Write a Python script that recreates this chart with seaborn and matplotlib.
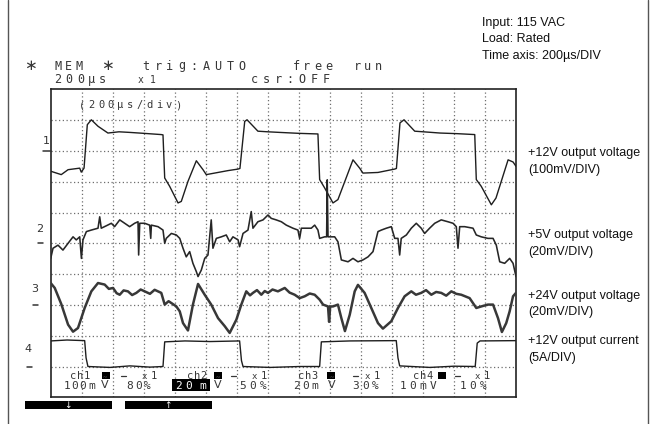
import matplotlib
matplotlib.use("Agg")
import matplotlib.pyplot as plt
from matplotlib.patches import Rectangle
from matplotlib.lines import Line2D
import pandas as pd
import seaborn as sns

sns.set_style("white")
plt.rcParams['font.family'] = ['DejaVu Sans']

W, H = 651, 424

# Time base: 200 us/div over 15 divisions. Amplitudes are in screen divisions (0 = bottom, 10 = top).
ch1_t = [0, 68, 112, 187, 197, 215, 236, 262, 305, 369, 440, 511, 600, 713, 724, 735, 767, 821, 842,
         885, 939, 982, 1003, 1057, 1143, 1208, 1220, 1251, 1266, 1336, 1400, 1478, 1600, 1723, 1734,
         1766, 1820, 1852, 1949, 1992, 2013, 2110, 2218, 2229, 2252, 2278, 2347, 2430, 2510, 2620,
         2734, 2744, 2776, 2841, 2871, 2949, 2981, 3000]
ch1_v = [7.34, 7.23, 7.39, 7.44, 7.31, 7.44, 8.85, 9.01, 8.80, 8.58, 8.62, 8.60, 8.57, 8.53, 8.52,
         7.12, 6.85, 6.31, 6.36, 7.01, 7.68, 7.39, 7.23, 7.28, 7.36, 7.41, 7.43, 8.96, 9.01, 8.64,
         8.62, 8.60, 8.57, 8.55, 7.07, 6.80, 6.31, 6.42, 7.71, 7.44, 7.28, 7.30, 7.41, 7.43, 8.91,
         9.01, 8.64, 8.61, 8.58, 8.56, 8.53, 7.07, 6.85, 6.25, 6.47, 7.71, 7.64, 7.50]

ch2_t = [0, 15, 47, 79, 112, 144, 165, 187, 198, 208, 230, 262, 305, 316, 326, 359, 391, 412, 445,
         477, 509, 541, 563, 567, 574, 606, 638, 645, 649, 692, 724, 735, 745, 778, 810, 832, 853,
         874, 896, 917, 939, 950, 971, 993, 1014, 1035, 1046, 1068, 1100, 1132, 1154, 1175, 1208,
         1218, 1240, 1272, 1293, 1304, 1336, 1369, 1401, 1422, 1454, 1487, 1519, 1562, 1594, 1605,
         1616, 1648, 1680, 1702, 1723, 1734, 1766, 1779, 1783, 1788, 1831, 1852, 1874, 1917, 1949,
         1981, 2013, 2046, 2078, 2110, 2132, 2164, 2196, 2218, 2239, 2250, 2260, 2293, 2325, 2357,
         2389, 2411, 2443, 2476, 2518, 2561, 2594, 2615, 2626, 2637, 2669, 2723, 2744, 2776, 2819,
         2852, 2873, 2895, 2927, 2959, 2981, 3000]
ch2_v = [4.51, 4.84, 4.94, 4.78, 5.00, 5.21, 5.11, 5.21, 4.51, 5.11, 5.38, 5.43, 5.49, 5.86, 5.49,
         5.57, 5.65, 5.54, 5.76, 5.65, 5.54, 5.65, 5.70, 4.62, 5.65, 5.65, 5.59, 5.16, 5.59, 5.54,
         5.43, 5.00, 5.16, 5.32, 5.27, 5.16, 4.84, 4.56, 4.73, 4.35, 4.08, 3.92, 4.13, 4.51, 4.62,
         5.76, 4.84, 5.16, 5.21, 5.27, 5.05, 5.21, 5.11, 4.89, 5.32, 5.43, 6.03, 5.49, 5.70, 5.76,
         5.92, 5.81, 5.76, 5.70, 5.59, 5.49, 5.43, 5.16, 5.49, 5.49, 5.49, 5.59, 5.43, 5.16, 5.21,
         5.21, 7.06, 5.21, 5.21, 5.05, 4.46, 4.40, 4.51, 4.40, 4.46, 4.56, 4.73, 5.38, 5.43, 5.49,
         5.54, 5.16, 5.16, 4.62, 5.16, 5.27, 5.49, 5.65, 5.49, 5.32, 5.49, 5.65, 5.76, 5.70, 5.65,
         5.54, 4.84, 5.54, 5.54, 5.49, 5.27, 5.21, 5.16, 5.16, 4.94, 4.40, 4.35, 4.51, 4.35, 3.92]

ch3_t = [0, 26, 68, 112, 144, 176, 219, 262, 305, 348, 375, 402, 425, 445, 470, 498, 525, 552, 580,
         606, 640, 670, 713, 735, 760, 778, 810, 832, 853, 885, 917, 950, 993, 1035, 1079, 1122,
         1154, 1197, 1229, 1261, 1285, 1304, 1330, 1358, 1380, 1401, 1430, 1465, 1509, 1540, 1573,
         1605, 1638, 1670, 1702, 1734, 1756, 1788, 1795, 1802, 1820, 1852, 1874, 1897, 1928, 1960,
         1981, 2024, 2067, 2110, 2142, 2196, 2239, 2282, 2325, 2355, 2389, 2420, 2454, 2485, 2518,
         2550, 2583, 2615, 2647, 2701, 2744, 2776, 2819, 2852, 2884, 2909, 2937, 2959, 2981, 3000]
ch3_v = [3.71, 3.55, 3.03, 2.36, 2.13, 2.25, 2.90, 3.44, 3.71, 3.66, 3.52, 3.55, 3.38, 3.33, 3.47,
         3.44, 3.32, 3.39, 3.50, 3.44, 3.36, 3.49, 3.39, 3.01, 3.12, 3.06, 2.95, 2.79, 2.41, 2.17,
         3.01, 3.68, 3.33, 3.01, 2.57, 2.31, 2.09, 2.52, 3.01, 3.44, 3.31, 3.39, 3.48, 3.33, 3.45,
         3.39, 3.50, 3.44, 3.55, 3.40, 3.33, 3.22, 3.28, 3.37, 3.33, 3.17, 3.01, 2.95, 2.45, 2.95,
         2.95, 3.01, 2.57, 2.15, 2.68, 3.44, 3.65, 3.39, 2.90, 2.41, 2.23, 2.47, 2.90, 3.28, 3.44,
         3.33, 3.39, 3.48, 3.33, 3.42, 3.39, 3.30, 3.44, 3.36, 3.33, 3.22, 2.90, 2.95, 3.01, 3.01,
         2.57, 2.12, 2.41, 2.79, 3.28, 3.39]

ch4_t = [0, 105, 219, 228, 240, 382, 511, 640, 724, 735, 866, 1027, 1218, 1230, 1240, 1414, 1607,
         1734, 1745, 1930, 2228, 2239, 2250, 2445, 2600, 2737, 2750, 2768, 3000]
ch4_v = [1.83, 1.86, 1.84, 1.28, 1.00, 0.97, 1.02, 0.98, 1.00, 1.80, 1.83, 1.81, 1.83, 1.19, 1.00,
         0.97, 1.00, 1.00, 1.80, 1.83, 1.84, 1.28, 1.02, 0.97, 1.01, 1.00, 1.76, 1.83, 1.84]

info_lines = ["Input: 115 VAC", "Load: Rated", "Time axis: 200µs/DIV"]
trace_labels = [("+12V output voltage", "(100mV/DIV)"),
                ("+5V output voltage", "(20mV/DIV)"),
                ("+24V output voltage", "(20mV/DIV)"),
                ("+12V output current", "(5A/DIV)")]

fig = plt.figure(figsize=(W / 100, H / 100), dpi=100)
fig.patch.set_facecolor("white")


def fx(x):
    return x / W


def fy(y):
    return 1 - y / H


def mono(x0, y, s, pitch, size=8, color="#363636", **kw):
    for i, ch in enumerate(s):
        if ch != " ":
            fig.text(fx(x0 + i * pitch), fy(y), ch, ha="center", va="baseline",
                     family="DejaVu Sans Mono", fontsize=size, color=color, **kw)


def rect(x0, y0, x1, y1, color="black"):
    fig.patches.append(Rectangle((fx(x0), fy(y1)), (x1 - x0) / W, (y1 - y0) / H,
                                 transform=fig.transFigure, facecolor=color,
                                 edgecolor="none", zorder=3))


def hline(x0, x1, y, color="#333", lw=1.0):
    fig.lines.append(Line2D([fx(x0), fx(x1)], [fy(y), fy(y)], transform=fig.transFigure,
                            color=color, lw=lw))


# Scope screen
box_l, box_t, box_r, box_b = 50.7, 89.3, 516.0, 397.3
ax = fig.add_axes([fx(box_l), fy(box_b), (box_r - box_l) / W, (box_b - box_t) / H])
ax.set_xlim(0, 3000)
ax.set_ylim(0, 10)
ax.set_xticks([])
ax.set_yticks([])
for s in ax.spines.values():
    s.set_color("#222222")
    s.set_linewidth(1.2)
for k in range(1, 15):
    ax.axvline(k * 200, color="#6e6e6e", lw=0.9, ls=(0, (1, 2)), zorder=1)
for k in range(1, 10):
    ax.axhline(k, color="#6e6e6e", lw=0.9, ls=(0, (1, 2)), zorder=1)

traces = [(ch1_t, ch1_v, "#1e1e1e", 1.0), (ch2_t, ch2_v, "#262626", 1.15),
          (ch3_t, ch3_v, "#383838", 1.8), (ch4_t, ch4_v, "#1e1e1e", 1.0)]
for t, v, c, lw in traces:
    df = pd.DataFrame({"time_us": t, "level": v})
    sns.lineplot(data=df, x="time_us", y="level", ax=ax, color=c, lw=lw,
                 estimator=None, sort=False, zorder=3)
ax.set_xlabel("")
ax.set_ylabel("")

# Outer frame
for x in (8, 648):
    fig.lines.append(Line2D([fx(x), fx(x)], [0, 1], transform=fig.transFigure,
                            color="#555555", lw=1.0))

# Header readout
fig.text(fx(30), fy(70), "∗", ha="center", va="baseline", fontsize=11, color="#363636")
mono(58, 69.5, "MEM", 10.5, size=8.5)
fig.text(fx(107), fy(70), "∗", ha="center", va="baseline", fontsize=11, color="#363636")
mono(146, 69.5, "trig:AUTO", 12, size=8.5)
mono(296, 69.5, "free", 10.8, size=8.5)
mono(357, 69.5, "run", 10.5, size=8.5)
mono(58, 83, "200µs", 11.2, size=8.5)
mono(141, 83, "x1", 12, size=7)
mono(254, 83, "csr:OFF", 12, size=8.5)

mono(82, 108, "(200µs/div)", 9.6, size=7.5)

# Channel markers on the left
for num, nx, ny, gx0, gx1, gy in [("1", 46.5, 144, 43, 50.7, 151),
                                  ("2", 40, 232, 38, 43, 243.3),
                                  ("3", 34.5, 292, 33, 37.5, 305),
                                  ("4", 28, 352, 27, 32, 366.7)]:
    fig.text(fx(nx), fy(ny), num, ha="center", va="baseline", fontsize=8, color="#333")
    hline(gx0, gx1, gy, lw=1.1)

# Channel settings rows
row1, row2 = 379, 389.3
mono(73, row1, "ch1", 6.8, size=7.5)
mono(190, row1, "ch2", 6.8, size=7.5)
mono(301, row1, "ch3", 6.8, size=7.5)
mono(416, row1, "ch4", 6.8, size=7.5)
for x0 in (102, 214, 327, 438):
    rect(x0, 371.5, x0 + 8, 379)
for x0 in (123, 233, 355, 457):
    hline(x0 - 2.5, x0 + 2.5, 375.5, color="#363636", lw=0.9)
for x0 in (144, 254, 367, 477):
    mono(x0, row1, "x", 1, size=6.5)
    mono(x0 + 10, row1, "1", 1, size=7.5)

rect(172, 379, 210, 390.5)
mono(67, row2, "100", 8, size=8)
mono(92, row2, "m", 1, size=8)
mono(130, row2, "80%", 8.5, size=8)
mono(178, row2, "20", 11, size=8, color="white", zorder=5)
mono(203, row2, "m", 1, size=8, color="white", zorder=5)
mono(243, row2, "50%", 10, size=8)
mono(296, row2, "20", 10, size=8)
mono(315, row2, "m", 1, size=8)
mono(356, row2, "30%", 9.5, size=8)
mono(403, row2, "10mV", 10, size=8)
mono(463, row2, "10%", 10, size=8)
for vx in (105, 218, 332):
    fig.text(fx(vx), fy(row2), r"$\tilde{\mathrm{V}}$", ha="center", va="baseline",
             fontsize=8, color="#363636")

# Soft keys
rect(25, 401, 112, 409)
rect(125, 401, 212, 409)
fig.text(fx(68), fy(405), "↓", ha="center", va="center", fontsize=6.5, color="white", zorder=5)
fig.text(fx(168), fy(405), "↑", ha="center", va="center", fontsize=6.5, color="white", zorder=5)

# Annotations
for i, s in enumerate(info_lines):
    fig.text(fx(482), fy(23 + i * 16.5), s, ha="left", va="center",
             family="Liberation Sans", fontsize=9, color="#111")
for (a, b), y in zip(trace_labels, (153, 235, 296, 341)):
    fig.text(fx(528), fy(y), a, ha="left", va="center", family="Liberation Sans",
             fontsize=9, color="#111")
    fig.text(fx(528), fy(y + 16.5), b, ha="left", va="center", family="Liberation Sans",
             fontsize=9, color="#111")

fig.savefig("out.png", dpi=100)
